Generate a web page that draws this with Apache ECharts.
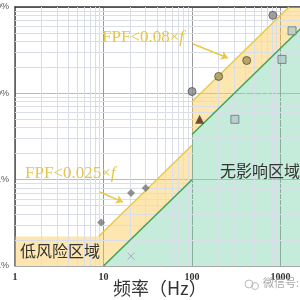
<!DOCTYPE html>
<html>
<head>
<meta charset="utf-8">
<script src="https://cdn.jsdelivr.net/npm/echarts@6/dist/echarts.min.js"></script>
<style>
  html, body { margin: 0; padding: 0; background: #fff; }
  #main { width: 300px; height: 300px; }
</style>
</head>
<body>
<div id="main"></div>
<script>
// boundaries (frequency Hz, FPF %)
var lowRiskEdge = [[1, 0.22], [8.8, 0.22], [100, 2.5], [100, 8], [1250, 100]];
var noEffectEdge = [[10, 0.1], [100, 1], [100, 3.33], [3000, 100]];

// measured samples
var grayCircles = [[100, 10.5], [820, 80]];
var oliveCircles = [[200, 15.7], [415, 24]];
var triangles = [[122, 5.0]];
var squares = [[305, 5.0], [1040, 24.7], [1350, 53]];
var diamonds = [[9.4, 0.32], [20.5, 0.70], [30, 0.80]];
var crosses = [[20.5, 0.13]];

var xTicks = [1, 10, 100, 1000, 10000];
var yTicks = [0.1, 1, 10, 100];

// minor grid values (2..9 inside every decade)
function minorValues(ticks) {
  var out = [];
  for (var i = 0; i < ticks.length - 1; i++) {
    for (var k = 2; k <= 9; k++) out.push(ticks[i] * k);
  }
  return out;
}
var minorX = minorValues(xTicks);
var minorY = minorValues(yTicks);

var chart = echarts.init(document.getElementById('main'));

function regionItem(edge, color) {
  return function (params, api) {
    var pts = edge.map(function (p) { return api.coord(p); });
    return {
      type: 'polygon',
      shape: { points: pts },
      style: { fill: color }
    };
  };
}

// yellow band = between the two boundaries, green = below the lower one
var lowRiskPoly = [[1, 0.1]].concat(lowRiskEdge, noEffectEdge.slice().reverse());
var noEffectPoly = noEffectEdge.concat([[10000, 100], [10000, 0.1]]);

var option = {
  animation: false,
  grid: { left: 15, width: 354, top: 7, height: 259, outerBoundsMode: 'none', containLabel: false },
  xAxis: [{
    type: 'log',
    min: 1, max: 10000,
    axisLine: { lineStyle: { color: '#aaa' } },
    axisTick: { show: false },
    axisLabel: {
      color: '#333', fontSize: 10, fontWeight: 'bold', fontFamily: 'Liberation Serif',
      margin: 6,
      formatter: function (v) { return String(v); }
    },
    splitLine: { show: true, lineStyle: { color: '#999' } }
  }, {
    type: 'log', position: 'top',
    min: 1, max: 10000,
    axisLine: { show: true, lineStyle: { color: '#333', width: 1.5 } },
    axisTick: { show: false }, axisLabel: { show: false }, splitLine: { show: false }
  }],
  yAxis: {
    type: 'log',
    min: 0.1, max: 100,
    axisLine: { show: true, lineStyle: { color: '#555', width: 1.5 } },
    axisTick: { show: false },
    axisLabel: {
      color: '#555', fontSize: 9, margin: 6,
      formatter: function (v) { return v + '%'; }
    },
    splitLine: { show: true, lineStyle: { color: '#bbb' } }
  },
  series: [
    {
      type: 'line', data: [], silent: true,
      markLine: {
        silent: true, symbol: 'none', label: { show: false },
        lineStyle: { color: '#d9dee8', type: 'solid', width: 1 },
        data: minorX.map(function (v) { return { xAxis: v }; })
          .concat(minorY.map(function (v) { return { yAxis: v }; }))
      }
    },
    {
      type: 'custom', data: [0], silent: true, clip: true, z: 3,
      renderItem: regionItem(lowRiskPoly, 'rgba(250,200,80,0.45)')
    },
    {
      type: 'custom', data: [0], silent: true, clip: true, z: 4,
      renderItem: regionItem(noEffectPoly, 'rgba(110,205,165,0.4)')
    },
    {
      type: 'line', data: lowRiskEdge.slice(1, 3), symbol: 'none', z: 5,
      lineStyle: { color: '#e8c94a', width: 1.5 }
    },
    {
      type: 'line', data: lowRiskEdge.slice(3, 5), symbol: 'none', z: 5,
      lineStyle: { color: '#e8c94a', width: 1.5 }
    },
    {
      type: 'line', data: noEffectEdge.slice(0, 2), symbol: 'none', z: 5,
      lineStyle: { color: '#3da35a', width: 1.5 }
    },
    {
      type: 'line', data: noEffectEdge.slice(2, 4), symbol: 'none', z: 5,
      lineStyle: { color: '#3da35a', width: 1.5 }
    },
    {
      type: 'scatter', data: grayCircles, symbol: 'circle', symbolSize: 8, z: 6,
      itemStyle: { color: '#8a8a8a', borderColor: '#555', borderWidth: 1 }
    },
    {
      type: 'scatter', data: oliveCircles, symbol: 'circle', symbolSize: 8, z: 6,
      itemStyle: { color: '#a8955a', borderColor: '#5a5030', borderWidth: 1 }
    },
    {
      type: 'scatter', data: triangles, symbol: 'triangle', symbolSize: 9, z: 6,
      itemStyle: { color: '#4a2810' }
    },
    {
      type: 'scatter', data: squares, symbol: 'rect', symbolSize: 8, z: 6,
      itemStyle: { color: '#b4c8c8', borderColor: '#607878', borderWidth: 1 }
    },
    {
      type: 'scatter', data: diamonds, symbol: 'diamond', symbolSize: 8, z: 6,
      itemStyle: { color: '#777' }
    },
    {
      type: 'scatter', data: crosses, z: 6,
      symbol: 'path://M0,0L10,10M10,0L0,10', symbolSize: 7,
      itemStyle: { color: 'none', borderColor: '#8aa', borderWidth: 1 }
    },
    {
      type: 'line', data: [], silent: true, z: 7,
      markLine: {
        silent: true, symbol: ['none', 'arrow'], symbolSize: 7, label: { show: false },
        lineStyle: { color: '#e8c94a', type: 'solid', width: 1.5 },
        data: [
          [{ coord: [103, 37.3] }, { coord: [255, 25.7] }],
          [{ coord: [9.1, 0.72] }, { coord: [16.6, 0.55] }]
        ]
      }
    }
  ],
  graphic: [
    {
      type: 'text', left: 102, top: 29, z: 10,
      style: {
        text: '{a|FPF<0.08×}{b|f}',
        rich: {
          a: { fontFamily: 'Liberation Serif', fontSize: 17, fill: '#e6c64c' },
          b: { fontFamily: 'Liberation Serif', fontSize: 17, fontStyle: 'italic', fill: '#e6c64c' }
        }
      }
    },
    {
      type: 'text', left: 25, top: 165, z: 10,
      style: {
        text: '{a|FPF<0.025×}{b|f}',
        rich: {
          a: { fontFamily: 'Liberation Serif', fontSize: 17, fill: '#e6c64c' },
          b: { fontFamily: 'Liberation Serif', fontSize: 17, fontStyle: 'italic', fill: '#e6c64c' }
        }
      }
    },
    {
      type: 'text', left: 20, top: 243, z: 10,
      style: { text: '低风险区域', fontFamily: 'Noto Sans CJK SC', fontSize: 16, fill: '#333' }
    },
    {
      type: 'text', left: 220, top: 163, z: 10,
      style: { text: '无影响区域', fontFamily: 'Noto Sans CJK SC', fontSize: 16, fill: '#333' }
    },
    {
      type: 'text', left: 113, top: 279, z: 10,
      style: { text: '频率（Hz）', fontFamily: 'Noto Sans CJK SC', fontSize: 18, fill: '#333' }
    },
    {
      type: 'text', left: 263, top: 277, z: 10,
      style: { text: '微信号: e', fontFamily: 'Noto Sans CJK SC', fontSize: 11, fill: '#aaa' }
    },
    {
      type: 'circle', z: 10, shape: { cx: 249, cy: 284, r: 4 },
      style: { fill: 'none', stroke: '#bbb', lineWidth: 1 }
    },
    {
      type: 'circle', z: 10, shape: { cx: 255, cy: 286, r: 3.5 },
      style: { fill: 'none', stroke: '#bbb', lineWidth: 1 }
    }
  ]
};

chart.setOption(option);
</script>
</body>
</html>
